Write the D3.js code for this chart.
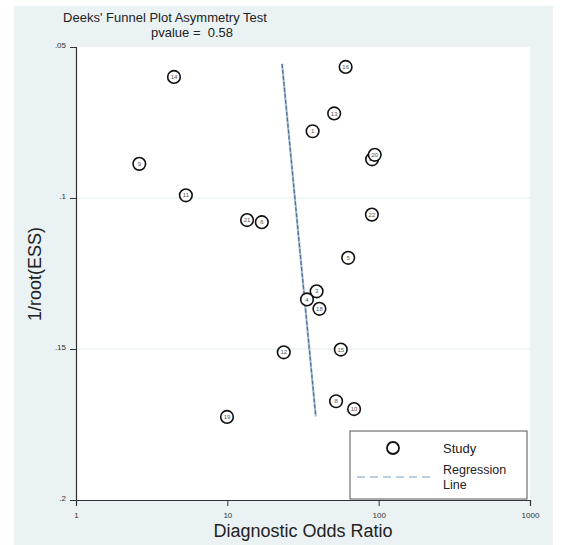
<!DOCTYPE html>
<html><head><meta charset="utf-8">
<script src="https://cdn.jsdelivr.net/npm/d3@7"></script>
<style>body{margin:0;background:#fff}svg{display:block}text{font-family:"Liberation Sans",Arial,sans-serif}</style>
</head><body><svg id="c" width="565" height="545"></svg>
<script>
const studyLabels = ["14","16","13","1","9","17","20","11","21","6","22","5","3","4","18","12","15","8","10","19"];
const dor = [4.44,60.5,50.8,36.6,2.62,90.5,94.2,5.32,13.5,16.9,90.2,62.9,38.9,33.6,40.6,23.6,56.2,52.3,68.8,9.95];
const invRootESS = [0.0599,0.0566,0.0720,0.0779,0.0887,0.0872,0.0857,0.0991,0.1073,0.1080,0.1055,0.1198,0.1309,0.1336,0.1367,0.1511,0.1502,0.1673,0.1699,0.1725];
const xTicks = [1,10,100,1000];
const yTicks = [0.05,0.1,0.15,0.2];
const yTickLabels = [".05",".1",".15",".2"];
const regX = [23.0,38.4];
const regY = [0.0556,0.1723];
const pvalue = "0.58";

const svg = d3.select("#c");
svg.append("rect").attr("x",14).attr("y",6).attr("width",539).attr("height",539).attr("fill","#eaf2f3");
const x = d3.scaleLog().domain([1,1000]).range([76,530]);
const y = d3.scaleLinear().domain([0.05,0.2]).range([47,500]);
svg.append("rect").attr("x",x(1)).attr("y",y(0.05)).attr("width",x(1000)-x(1)).attr("height",y(0.2)-y(0.05)).attr("fill","#fff");
// gridlines
svg.append("g").selectAll("line").data(yTicks.slice(1,3)).join("line")
  .attr("x1",x(1)).attr("x2",x(1000)).attr("y1",d=>y(d)).attr("y2",d=>y(d))
  .attr("stroke","#e3eef0").attr("stroke-width",1.2);
// axes
const ax = d3.axisBottom(x).tickValues(xTicks).tickFormat(d3.format("d")).tickSizeOuter(0).tickSize(6).tickPadding(6);
const gx = svg.append("g").attr("transform",`translate(0,${y(0.2)})`).call(ax);
const ay = d3.axisLeft(y).tickValues(yTicks).tickFormat((d,i)=>yTickLabels[i]).tickSizeOuter(0).tickSize(6).tickPadding(4);
const gy = svg.append("g").attr("transform",`translate(${x(1)},0)`).call(ay);
[gx,gy].forEach(g=>{
  g.select(".domain").attr("stroke","#333").attr("stroke-width",1.2);
  g.selectAll(".tick line").attr("stroke","#333").attr("stroke-width",1);
  g.selectAll(".tick text").attr("fill","#333").attr("font-size",8).style("font-family","Liberation Sans, Arial, sans-serif");
});
gy.selectAll(".tick text").attr("dy","0.1em");
// regression line
const line = d3.line().x(d=>x(d[0])).y(d=>y(d[1]));
const regPts = regX.map((v,i)=>[v,regY[i]]);
svg.append("path").attr("d",line(regPts)).attr("stroke","#a9bfd2").attr("stroke-width",2.2).attr("fill","none");
svg.append("path").attr("d",line(regPts)).attr("stroke","#4d6f96").attr("stroke-width",1.2).attr("stroke-dasharray","4,2").attr("fill","none");
// points
const pts = svg.append("g").selectAll("g").data(dor.map((d,i)=>({x:d,y:invRootESS[i],l:studyLabels[i]}))).join("g")
  .attr("transform",d=>`translate(${x(d.x)},${y(d.y)})`);
pts.append("circle").attr("r",6.3).attr("fill","#fff").attr("stroke","#111").attr("stroke-width",1.6);
pts.append("text").text(d=>d.l).attr("text-anchor","middle").attr("dy","0.35em").attr("font-size",6).attr("fill","#555");
// titles
svg.append("text").attr("x",165).attr("y",22).attr("text-anchor","middle").attr("font-size",13).attr("fill","#222").text("Deeks' Funnel Plot Asymmetry Test");
svg.append("text").attr("x",192).attr("y",37).attr("text-anchor","middle").attr("font-size",13).attr("fill","#222").style("white-space","pre").text("pvalue =  " + pvalue);
svg.append("text").attr("x",303).attr("y",537).attr("text-anchor","middle").attr("font-size",18).attr("fill","#222").text("Diagnostic Odds Ratio");
svg.append("text").attr("transform","translate(41,274) rotate(-90)").attr("text-anchor","middle").attr("font-size",18).attr("fill","#222").text("1/root(ESS)");
// legend
const lg = svg.append("g");
lg.append("rect").attr("x",350).attr("y",431).attr("width",177).attr("height",68).attr("fill","#fff").attr("stroke","#555").attr("stroke-width",1);
lg.append("circle").attr("cx",393).attr("cy",448).attr("r",6).attr("fill","#fff").attr("stroke","#111").attr("stroke-width",1.8);
lg.append("text").attr("x",443).attr("y",453).attr("font-size",13).attr("fill","#222").text("Study");
lg.append("line").attr("x1",357).attr("x2",431).attr("y1",477).attr("y2",477).attr("stroke","#a9bfd2").attr("stroke-width",1.5).attr("stroke-dasharray","8,5");
lg.append("text").attr("x",443).attr("y",474).attr("font-size",12.5).attr("fill","#222").text("Regression");
lg.append("text").attr("x",443).attr("y",489).attr("font-size",12.5).attr("fill","#222").text("Line");
</script></body></html>
